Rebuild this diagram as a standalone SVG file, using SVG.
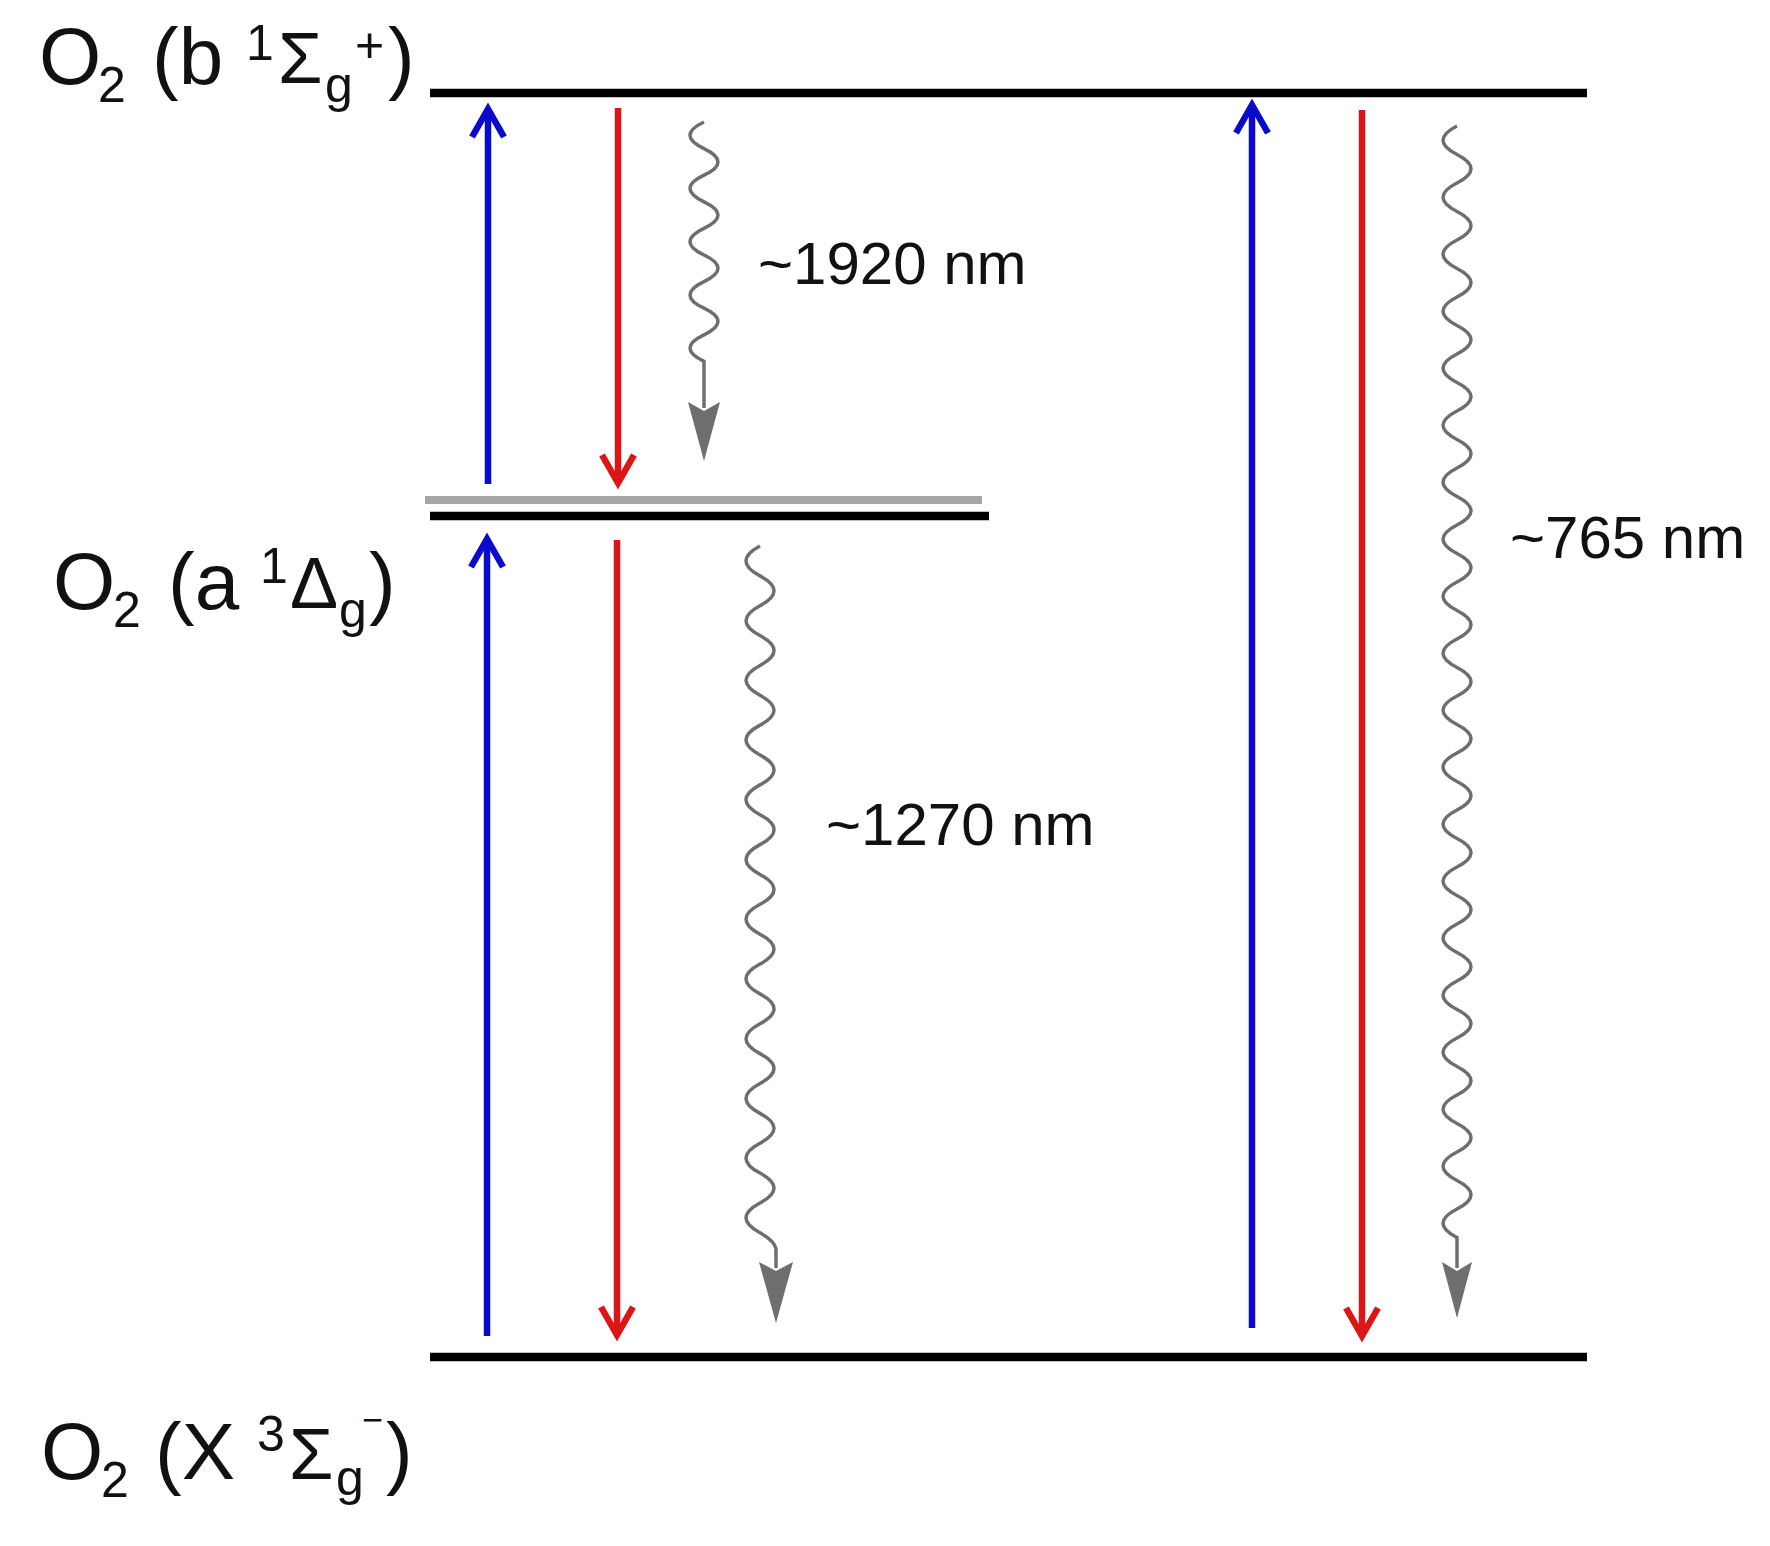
<svg xmlns="http://www.w3.org/2000/svg" width="1770" height="1546" viewBox="0 0 1770 1546">
<style>
.lbl{font-family:"Liberation Sans",Arial,sans-serif;font-size:80px;fill:#111}
.sm{font-size:50px}
.gr{font-size:72px}
.nm{font-family:"Liberation Sans",Arial,sans-serif;font-size:60px;fill:#111}
.lvl{stroke:#000;stroke-width:8.5;fill:none}
.gl{stroke:#a6a6a6;stroke-width:8;fill:none}
.blue{stroke:#0a0acc;stroke-width:6.5;fill:none;stroke-linejoin:miter}
.red{stroke:#dc1616;stroke-width:6.5;fill:none;stroke-linejoin:miter}
.wave{stroke:#6e6e6e;stroke-width:3.5;fill:none}
.wh{fill:#6e6e6e}
</style>
<rect width="1770" height="1546" fill="#fff"/>
<g id="level-b">
<line class="lvl" x1="430" y1="93" x2="1587" y2="93"/>
<text class="lbl"><tspan x="39" y="84">O</tspan><tspan class="sm" x="98" y="102">2</tspan><tspan x="152" y="84">(b</tspan><tspan class="sm" x="246" y="60">1</tspan><tspan class="gr" x="278" y="83">Σ</tspan><tspan class="sm" x="325" y="102">g</tspan><tspan class="sm" x="355" y="62">+</tspan><tspan x="388" y="84">)</tspan></text>
</g>
<g id="level-a">
<line class="gl" x1="425" y1="500" x2="982" y2="500"/>
<line class="lvl" x1="430" y1="516" x2="989" y2="516"/>
<text class="lbl"><tspan x="53" y="609">O</tspan><tspan class="sm" x="113" y="627">2</tspan><tspan x="168" y="609">(a</tspan><tspan class="sm" x="260" y="583">1</tspan><tspan class="gr" x="290" y="608">Δ</tspan><tspan class="sm" x="339" y="627">g</tspan><tspan x="369" y="609">)</tspan></text>
</g>
<g id="level-x">
<line class="lvl" x1="430" y1="1357" x2="1587" y2="1357"/>
<text class="lbl"><tspan x="41" y="1479">O</tspan><tspan class="sm" x="101" y="1497">2</tspan><tspan x="155" y="1479">(X</tspan><tspan class="sm" x="257" y="1451">3</tspan><tspan class="gr" x="289" y="1479">Σ</tspan><tspan class="sm" x="336" y="1495">g</tspan><tspan style="font-size:36px" x="362" y="1432">−</tspan><tspan x="386" y="1479">)</tspan></text>
</g>
<g id="connectors">
<line class="blue" x1="488" y1="484" x2="488" y2="111"/>
<polyline class="blue" points="472,137 488,109 504,137"/>
<line class="red" x1="618" y1="108" x2="618" y2="480"/>
<polyline class="red" points="602,455 618,483 634,455"/>
<path class="wave" d="M704 122 q-28 13.3 0 26.6 t0 26.6 t0 26.6 t0 26.6 t0 26.6 t0 26.6 t0 26.6 t0 26.6 t0 26.6 L704 408"/>
<path class="wh" d="M688 402 L704 461 L720 402 L704 411 Z"/>
<line class="blue" x1="487" y1="1336" x2="487" y2="541"/>
<polyline class="blue" points="471,567 487,539 503,567"/>
<line class="red" x1="617" y1="540" x2="617" y2="1332"/>
<polyline class="red" points="601,1307 617,1335 633,1307"/>
<path class="wave" d="M760 546 q-28 14.93 0 29.86 t0 29.86 t0 29.86 t0 29.86 t0 29.86 t0 29.86 t0 29.86 t0 29.86 t0 29.86 t0 29.86 t0 29.86 t0 29.86 t0 29.86 t0 29.86 t0 29.86 t0 29.86 t0 29.86 t0 29.86 t0 29.86 t0 29.86 t0 29.86 t0 29.86 t0 29.86 q14 7.5 16 16 L776 1268"/>
<path class="wh" d="M759 1262 L776 1323 L793 1262 L776 1271 Z"/>
<line class="blue" x1="1252" y1="1328" x2="1252" y2="107"/>
<polyline class="blue" points="1236,133 1252,105 1268,133"/>
<line class="red" x1="1362" y1="110" x2="1362" y2="1333"/>
<polyline class="red" points="1346,1308 1362,1336 1378,1308"/>
<path class="wave" d="M1457 126 q-28 14.25 0 28.5 t0 28.5 t0 28.5 t0 28.5 t0 28.5 t0 28.5 t0 28.5 t0 28.5 t0 28.5 t0 28.5 t0 28.5 t0 28.5 t0 28.5 t0 28.5 t0 28.5 t0 28.5 t0 28.5 t0 28.5 t0 28.5 t0 28.5 t0 28.5 t0 28.5 t0 28.5 t0 28.5 t0 28.5 t0 28.5 t0 28.5 t0 28.5 t0 28.5 t0 28.5 t0 28.5 t0 28.5 t0 28.5 t0 28.5 t0 28.5 t0 28.5 t0 28.5 t0 28.5 t0 28.5 L1457 1268"/>
<path class="wh" d="M1442 1262 L1457 1318 L1472 1262 L1457 1271 Z"/>
</g>
<g id="labels">
<text class="nm" x="758" y="284">~1920 nm</text>
<text class="nm" x="826" y="845">~1270 nm</text>
<text class="nm" x="1510" y="558">~765 nm</text>
</g>
</svg>
